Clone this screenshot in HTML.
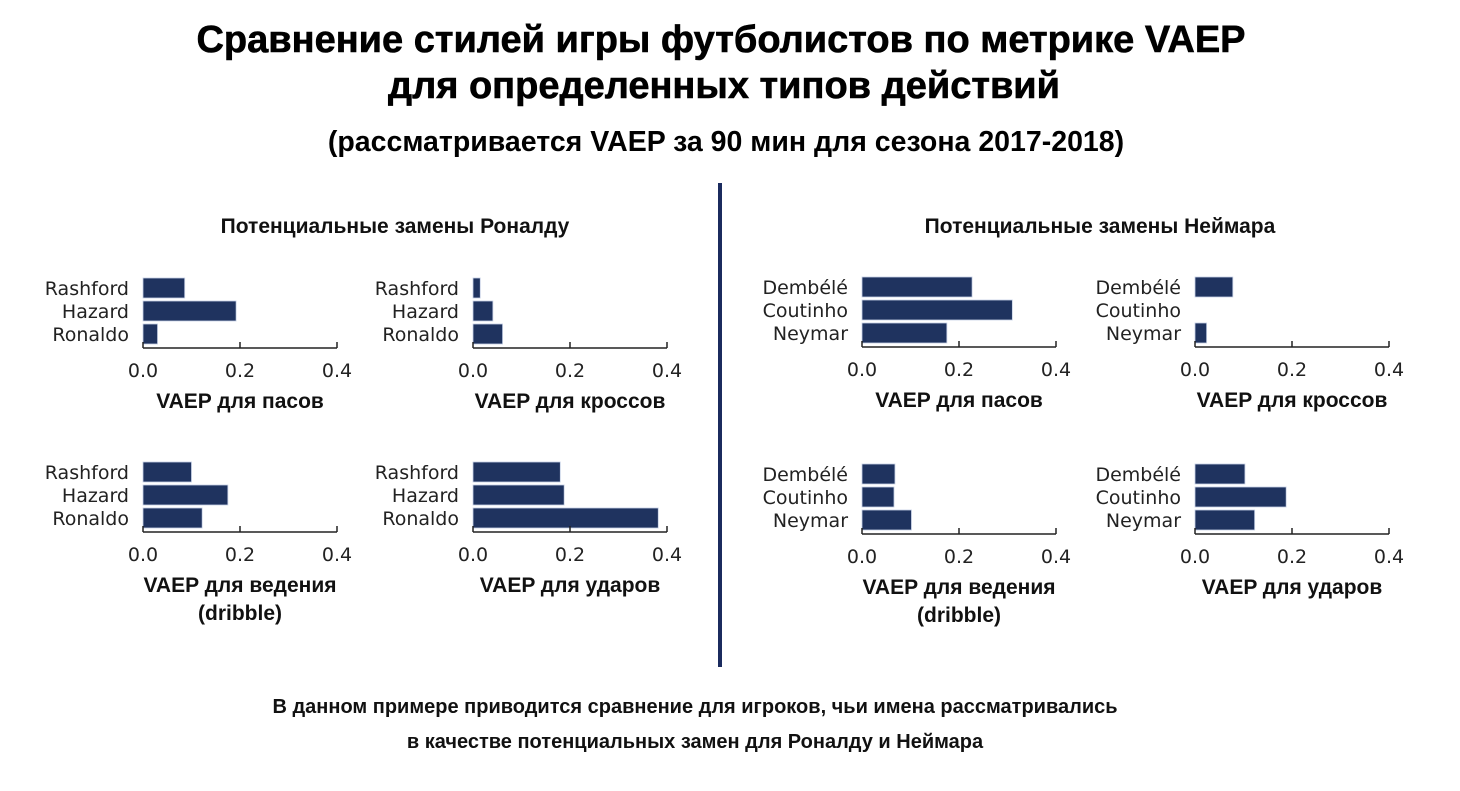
<!DOCTYPE html>
<html><head><meta charset="utf-8">
<style>
html,body{margin:0;padding:0;background:#fff;}
svg{display:block;}
.t{font-family:"Liberation Sans",sans-serif;font-weight:bold;fill:#000;}
.c{font-family:"Liberation Sans Narrow","Liberation Sans",sans-serif;font-weight:bold;fill:#111;}
.d{font-family:"DejaVu Sans",sans-serif;fill:#222;}
</style></head>
<body>
<svg id="chart" width="1460" height="791" xmlns="http://www.w3.org/2000/svg">
<text class="t" x="721" y="52" font-size="38" text-anchor="middle" stroke="#000" stroke-width="0.6">Сравнение стилей игры футболистов по метрике VAEP</text>
<text class="t" x="724" y="98" font-size="38" text-anchor="middle" stroke="#000" stroke-width="0.6">для определенных типов действий</text>
<text class="t" x="726" y="151" font-size="28.5" text-anchor="middle">(рассматривается VAEP за 90 мин для сезона 2017-2018)</text>
<text class="c" x="395" y="233" font-size="21" text-anchor="middle">Потенциальные замены Роналду</text>
<text class="c" x="1100" y="233" font-size="21" text-anchor="middle">Потенциальные замены Неймара</text>
<rect x="718" y="183" width="4" height="484" fill="#1b2b5e"/>
<text class="c" x="695" y="713" font-size="20" text-anchor="middle">В данном примере приводится сравнение для игроков, чьи имена рассматривались</text>
<text class="c" x="695" y="748" font-size="20" text-anchor="middle">в качестве потенциальных замен для Роналду и Неймара</text>
<g id="panels"></g>
</svg>
<script>
const ronaldoPlayers = ["Rashford","Hazard","Ronaldo"];
const neymarPlayers = ["Dembélé","Coutinho","Neymar"];
const ronaldoPasses = [0.086,0.192,0.03];
const ronaldoCrosses = [0.015,0.041,0.061];
const ronaldoDribbles = [0.10,0.175,0.122];
const ronaldoShots = [0.18,0.188,0.382];
const neymarPasses = [0.227,0.31,0.175];
const neymarCrosses = [0.078,0,0.024];
const neymarDribbles = [0.068,0.066,0.102];
const neymarShots = [0.103,0.188,0.123];
const tickValues = [0,0.2,0.4];
const tickLabels = ["0.0","0.2","0.4"];
const axisMax = 0.4;

const NS="http://www.w3.org/2000/svg";
const root=document.getElementById("panels");
function mk(tag,attrs,parent){const e=document.createElementNS(NS,tag);for(const k in attrs)e.setAttribute(k,attrs[k]);(parent||root).appendChild(e);return e;}

function panel(id,x0,top,players,values,titleLines){
  const w=194, barH=20, gap=3;
  const g=mk("g",{});
  
  
  const xs=v=>x0+v/axisMax*w;
  players.forEach((p,i)=>{
    const y=top+i*(barH+gap);
    if(values[i]>0){
      const r=mk("rect",{x:xs(0),y:y,width:xs(values[i])-xs(0),height:barH,fill:"#1f335f",stroke:"#c8d2e6","stroke-width":0.8},g);
      
      
    }
    const t=mk("text",{x:x0-14,y:y+barH/2+7,"font-size":19,"text-anchor":"end",class:"d"},g);
    t.textContent=p;
    
    
  });
  const axY=top+3*barH+2*gap+4;
  const ax=mk("line",{x1:xs(0),x2:xs(axisMax),y1:axY,y2:axY,stroke:"#222","stroke-width":1.5},g);
  
  
  tickValues.forEach((v,i)=>{
    mk("line",{x1:xs(v),x2:xs(v),y1:axY,y2:axY-6,stroke:"#222","stroke-width":1.5},g);
    const t=mk("text",{x:xs(v),y:axY+29,"font-size":19,"text-anchor":"middle",class:"d"},g);
    t.textContent=tickLabels[i];
    
    
  });
  titleLines.forEach((s,i)=>{
    const t=mk("text",{x:xs(axisMax/2),y:axY+60+i*28,"font-size":21,"text-anchor":"middle",class:"c"},g);
    t.textContent=s;
    
    
  });
}
panel("ronaldo-passes",143,278,ronaldoPlayers,ronaldoPasses,["VAEP для пасов"]);
panel("ronaldo-crosses",473,278,ronaldoPlayers,ronaldoCrosses,["VAEP для кроссов"]);
panel("ronaldo-dribbles",143,462,ronaldoPlayers,ronaldoDribbles,["VAEP для ведения","(dribble)"]);
panel("ronaldo-shots",473,462,ronaldoPlayers,ronaldoShots,["VAEP для ударов"]);
panel("neymar-passes",862,277,neymarPlayers,neymarPasses,["VAEP для пасов"]);
panel("neymar-crosses",1195,277,neymarPlayers,neymarCrosses,["VAEP для кроссов"]);
panel("neymar-dribbles",862,464,neymarPlayers,neymarDribbles,["VAEP для ведения","(dribble)"]);
panel("neymar-shots",1195,464,neymarPlayers,neymarShots,["VAEP для ударов"]);
</script>
</body></html>
